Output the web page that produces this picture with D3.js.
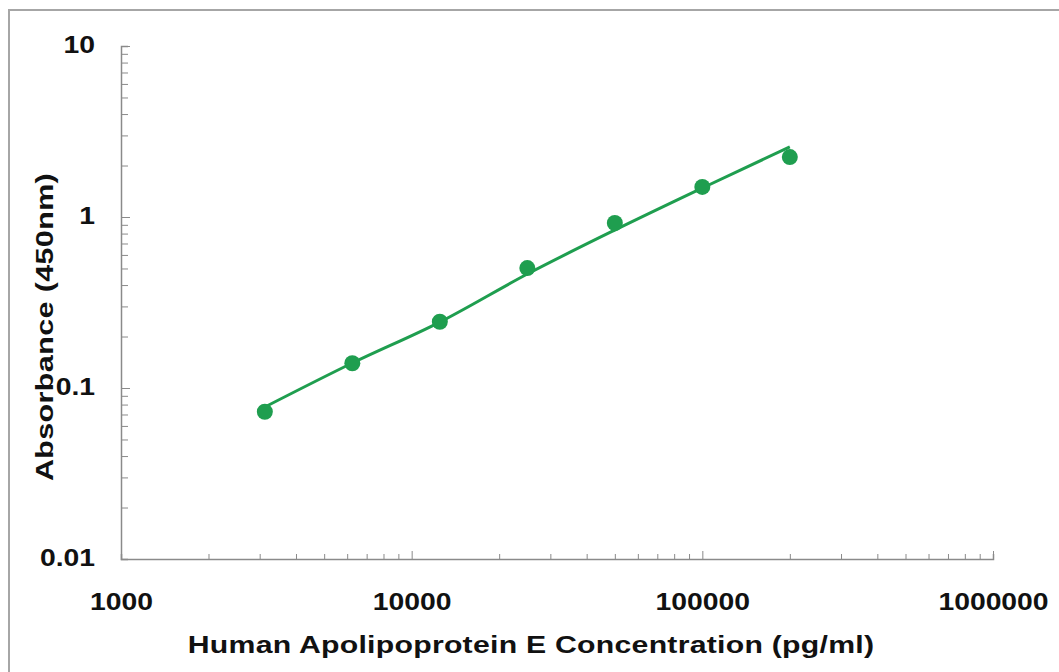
<!DOCTYPE html>
<html lang="en">
<head>
    <meta charset="UTF-8">
    <title>Human Apolipoprotein E Standard Curve</title>
    <script src="https://d3js.org/d3.v7.min.js"></script>
    <style>
        body {
            margin: 0;
            padding: 0;
            background: #fff;
            font-family: "Liberation Sans", Arial, sans-serif;
        }
        .tick text {
            font-weight: bold;
            font-size: 24px;
            fill: #111;
        }
        .axis-title {
            font-weight: bold;
            font-size: 24px;
            fill: #111;
        }
    </style>
</head>
<body>
    <svg id="chart" width="1059" height="672"></svg>

    <script>
        // Standard concentrations (pg/ml) and measured absorbance
        const concentrations = [3125, 6250, 12500, 25000, 50000, 100000, 200000];
        const absorbance = [0.0726, 0.1396, 0.244, 0.503, 0.922, 1.50, 2.24];
        // Fitted curve read at the same concentrations
        const fitted = [0.0774, 0.140, 0.243, 0.464, 0.839, 1.478, 2.57];

        const xMajor = [1000, 10000, 100000, 1000000];
        const yMajor = [0.01, 0.1, 1, 10];
        const xLabels = ["1000", "10000", "100000", "1000000"];
        const yLabels = ["0.01", "0.1", "1", "10"];

        const green = "#1f9e4f";
        const stretch = 1.18;   // the original lettering is wide

        const svg = d3.select("#chart");

        // outer frame
        svg.append("rect")
            .attr("x", 9)
            .attr("y", 10)
            .attr("width", 1080)
            .attr("height", 700)
            .attr("fill", "none")
            .attr("stroke", "#a6a6a6")
            .attr("stroke-width", 2);

        const x = d3.scaleLog().domain([1000, 1000000]).range([121, 993]);
        const y = d3.scaleLog().domain([0.01, 10]).range([559, 46]);

        // minor ticks: 2..9 of each decade
        const minorTicks = (majors) => {
            const out = [];
            majors.slice(0, -1).forEach(m => {
                for (let k = 2; k <= 9; k++) out.push(m * k);
            });
            return out;
        };

        // X axis
        const xAxisY = 559;
        svg.append("g")
            .attr("transform", `translate(0,${xAxisY})`)
            .call(d3.axisBottom(x).tickValues(minorTicks(xMajor)).tickSize(-5).tickFormat(""))
            .call(g => g.select(".domain").attr("stroke", "#8a8a8a").attr("stroke-width", 1.5))
            .call(g => g.selectAll(".tick line").attr("stroke", "#8a8a8a"));

        svg.append("g")
            .attr("transform", `translate(0,${xAxisY})`)
            .call(d3.axisBottom(x).tickValues(xMajor).tickSize(-8).tickPadding(34)
                .tickFormat((d, i) => xLabels[i]))
            .call(g => g.select(".domain").remove())
            .call(g => g.selectAll(".tick line").attr("stroke", "#8a8a8a"))
            .call(g => g.selectAll(".tick text").attr("transform", `scale(${stretch},1)`))
            .call(g => g.selectAll(".tick").filter(d => d === 1000).select("line").remove());

        // Y axis
        const yAxisX = 121;
        svg.append("g")
            .attr("transform", `translate(${yAxisX},0)`)
            .call(d3.axisLeft(y).tickValues(minorTicks(yMajor)).tickSize(-7).tickFormat(""))
            .call(g => g.select(".domain").attr("stroke", "#8a8a8a").attr("stroke-width", 1.5))
            .call(g => g.selectAll(".tick line").attr("stroke", "#8a8a8a"));

        svg.append("g")
            .attr("transform", `translate(${yAxisX},0)`)
            .call(d3.axisLeft(y).tickValues(yMajor).tickSize(-9).tickPadding(26)
                .tickFormat((d, i) => yLabels[i]))
            .call(g => g.select(".domain").remove())
            .call(g => g.selectAll(".tick line").attr("stroke", "#8a8a8a"))
            .call(g => g.selectAll(".tick text")
                .attr("x", -26 / stretch)
                .attr("dy", "0.28em")
                .attr("transform", `scale(${stretch},1)`))
            .call(g => g.selectAll(".tick").filter(d => d === 0.01).select("line").remove());

        // Axis titles
        svg.append("text")
            .attr("class", "axis-title")
            .attr("transform", "translate(531,653) scale(1.26,1)")
            .attr("text-anchor", "middle")
            .style("letter-spacing", "0.2px")
            .text("Human Apolipoprotein E Concentration (pg/ml)");

        svg.append("text")
            .attr("class", "axis-title")
            .attr("transform", "translate(53,327) rotate(-90) scale(1.27,1)")
            .attr("text-anchor", "middle")
            .style("letter-spacing", "0.3px")
            .text("Absorbance (450nm)");

        // Fitted curve
        const fitData = concentrations.map((c, i) => ({ c: c, v: fitted[i] }));
        svg.append("path")
            .datum(fitData)
            .attr("fill", "none")
            .attr("stroke", green)
            .attr("stroke-width", 3)
            .attr("d", d3.line()
                .x(d => x(d.c))
                .y(d => y(d.v))
                .curve(d3.curveMonotoneX));

        // Data points
        svg.selectAll(".dot")
            .data(concentrations.map((c, i) => ({ c: c, v: absorbance[i] })))
            .join("circle")
            .attr("class", "dot")
            .attr("cx", d => x(d.c))
            .attr("cy", d => y(d.v))
            .attr("r", 8)
            .attr("fill", green);
    </script>
</body>
</html>
